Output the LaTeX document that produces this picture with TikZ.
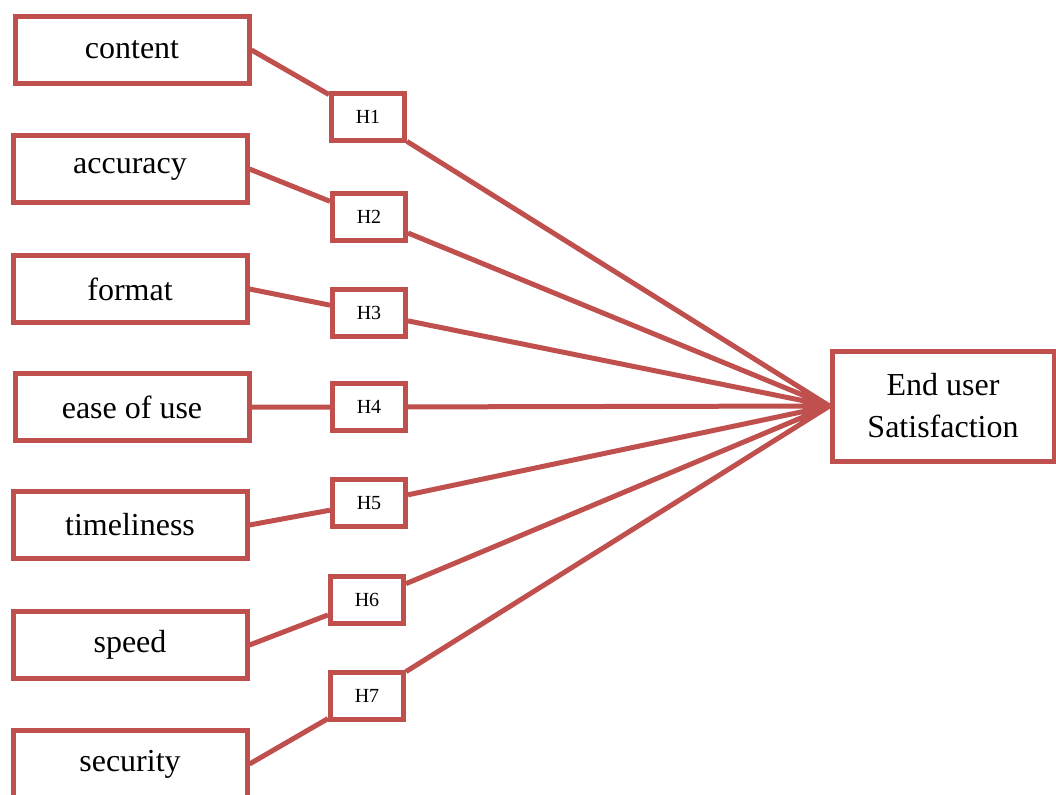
\documentclass[tikz,border=0pt]{standalone}
\usepackage{fontspec}
\setmainfont{Liberation Serif}
\usetikzlibrary{positioning}
\definecolor{boxred}{RGB}{192,80,77}
\tikzset{EUSstyle/.style={
    x=0.5pt,% one unit is one pixel of the layout
    y=-0.5pt,% y runs downwards
    line width=2.5pt,
    draw=boxred,
    every node/.style={% all boxes share the red frame
      draw=boxred,
      line width=2.5pt,
      inner sep=0pt
    }
  },
  factor/.style={minimum width=117pt, minimum height=33.5pt,
    font=\fontsize{16}{19}\selectfont},
  hyp/.style={minimum width=36.5pt, minimum height=23.5pt,
    font=\fontsize{10}{12}\selectfont},
  outcome/.style={minimum width=111pt, minimum height=55pt, align=center,
    font=\fontsize{16}{21}\selectfont}
}

\begin{document}
\begin{tikzpicture}[EUSstyle]
  \useasboundingbox (0,0) rectangle (1056,794);
  % factors
  \node[factor] (content) at (132,50) {content};
  \node[factor] (accuracy) at (130,169) {accuracy};
  \node[factor] (format) at (130,289) {format};
  \node[factor] (ease) at (132,407) {ease of use};
  \node[factor] (timeliness) at (130,525) {timeliness};
  \node[factor] (speed) at (130,645) {speed};
  \node[factor] (security) at (130,764) {security};
  % hypotheses
  \node[hyp] (h1) at (368,117) {H1};
  \node[hyp] (h2) at (369,217) {H2};
  \node[hyp] (h3) at (369,313) {H3};
  \node[hyp] (h4) at (369,407) {H4};
  \node[hyp] (h5) at (369,503) {H5};
  \node[hyp] (h6) at (367,600) {H6};
  \node[hyp] (h7) at (367,696) {H7};
  \node[outcome] (eus) at (943,406) {End user\\Satisfaction};
  \draw (content.east) -- (h1)  (h1) -- (eus.west)
        (accuracy.east) -- (h2)  (h2) -- (eus.west)
        (format.east) -- (h3)  (h3) -- (eus.west)
        (ease.east) -- (h4)  (h4) -- (eus.west)
        (timeliness.east) -- (h5)  (h5) -- (eus.west)
        (speed.east) -- (h6)  (h6) -- (eus.west)
        (security.east) -- (h7)  (h7) -- (eus.west);
\end{tikzpicture}
\end{document}
